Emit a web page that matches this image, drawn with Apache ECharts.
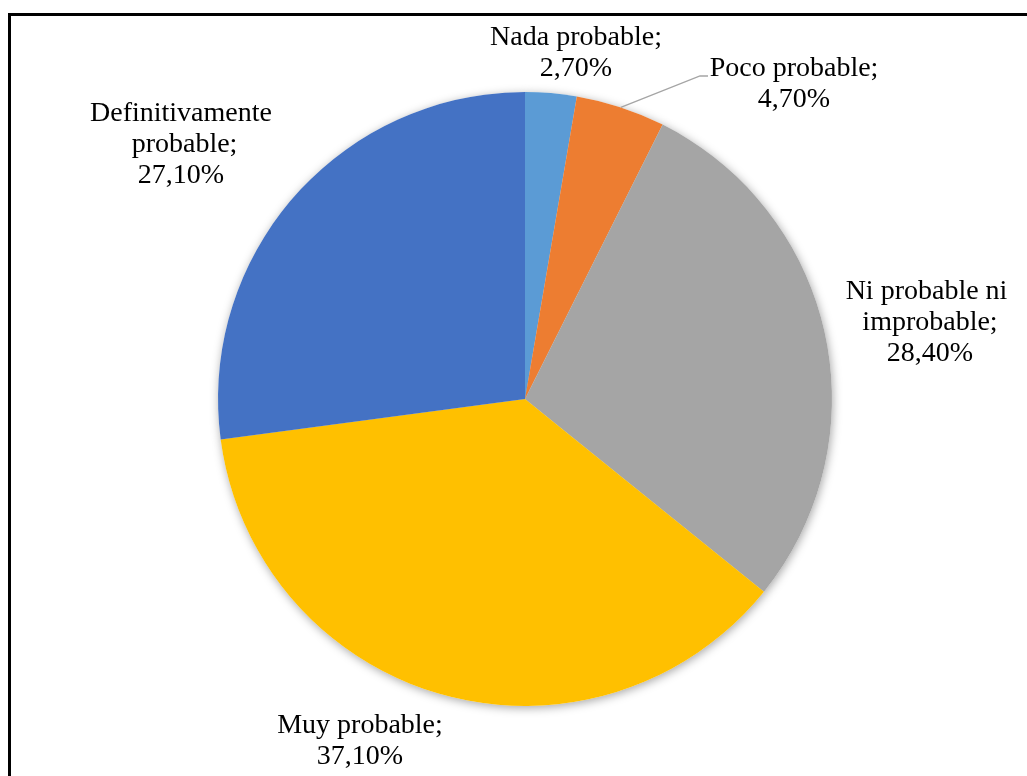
<!DOCTYPE html>
<html>
<head>
<meta charset="utf-8">
<script src="https://cdn.jsdelivr.net/npm/echarts@6/dist/echarts.min.js"></script>
<style>
  html, body { margin: 0; padding: 0; background: #fff; }
  #wrap { position: relative; width: 1027px; height: 776px; overflow: hidden; }
  #chart { position: absolute; left: 0; top: 0; width: 1027px; height: 776px; }
  #frame { position: absolute; left: 8px; top: 13px; width: 1100px; height: 900px;
           border-top: 3px solid #000; border-left: 3px solid #000; pointer-events: none; }
</style>
</head>
<body>
<div id="wrap">
  <div id="chart"></div>
  <div id="frame"></div>
</div>
<script>
const categories = ['Nada probable', 'Poco probable', 'Ni probable ni improbable', 'Muy probable', 'Definitivamente probable'];
const values = [2.7, 4.7, 28.4, 37.1, 27.1];
const colors = ['#5B9BD5', '#ED7D31', '#A5A5A5', '#FFC000', '#4472C4'];

const CX = 525, CY = 399, R = 307;
// label block centres (layout styling)
const labelCentres = [[576, 53], [794, 84], [930, 323], [360, 741], [181, 145]];

const total = values.reduce((a, b) => a + b, 0);
function midAngle(i) {
  let s = 0;
  for (let k = 0; k < i; k++) s += values[k];
  return ((s + values[i] / 2) / total) * Math.PI * 2; // clockwise from top
}

const data = categories.map((c, i) => ({
  name: c, value: values[i], itemStyle: { color: colors[i] }
}));

const fmt = v => v.toFixed(2).replace('.', ',') + '%';

const chart = echarts.init(document.getElementById('chart'), null, { renderer: 'canvas' });
chart.setOption({
  animation: false,
  backgroundColor: '#fff',
  series: [
    {
      type: 'pie',
      silent: true,
      center: [CX, CY],
      radius: R,
      startAngle: 90,
      clockwise: true,
      data: data.map(d => ({ name: d.name, value: d.value, itemStyle: { color: '#fff' } })),
      label: { show: false },
      labelLine: { show: false },
      itemStyle: { shadowBlur: 10, shadowColor: 'rgba(0,0,0,0.35)', shadowOffsetX: 1, shadowOffsetY: 2 },
      z: 1
    },
    {
      type: 'pie',
      center: [CX, CY],
      radius: R,
      startAngle: 90,
      clockwise: true,
      data: data,
      z: 2,
      itemStyle: { borderWidth: 0 },
      label: {
        show: true,
        position: 'outside',
        formatter: p => p.name + ';\n' + fmt(p.value),
        fontFamily: '"Liberation Serif", "Times New Roman", serif',
        fontSize: 28,
        lineHeight: 31,
        color: '#000',
        width: 186,
        overflow: 'break',
        align: 'center'
      },
      labelLine: {
        show: true,
        lineStyle: { color: '#A5A5A5', width: 1.3 }
      },
      labelLayout: function (params) {
        const i = params.dataIndex;
        const out = {
          x: labelCentres[i][0],
          y: labelCentres[i][1],
          align: 'center',
          verticalAlign: 'middle',
          hideOverlap: false,
          moveOverlap: false
        };
        if (i === 1) {
          const a = midAngle(i);
          const ax = CX + R * Math.sin(a), ay = CY - R * Math.cos(a);
          out.labelLinePoints = [[ax, ay], [700, 76], [708, 76]];
        } else {
          out.labelLinePoints = [[0, 0], [0, 0], [0, 0]];
        }
        return out;
      }
    }
  ]
});
</script>
</body>
</html>
